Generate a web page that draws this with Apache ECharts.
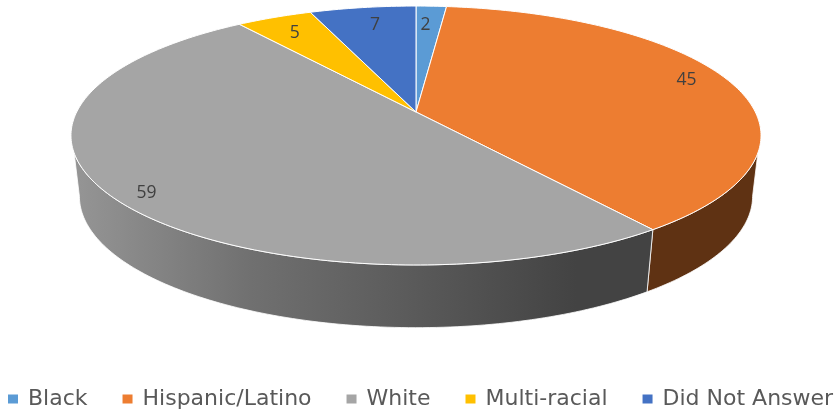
<!DOCTYPE html>
<html>
<head>
<meta charset="utf-8">
<style>html,body{margin:0;padding:0;background:#fff}#c{width:837px;height:412px}</style>
<script src="https://cdn.jsdelivr.net/npm/echarts@6/dist/echarts.min.js"></script>
</head>
<body>
<div id="c"></div>
<script>
const categories = ['Black', 'Hispanic/Latino', 'White', 'Multi-racial', 'Did Not Answer'];
const values = [2, 45, 59, 5, 7];
const colors = ['#5B9BD5', '#ED7D31', '#A5A5A5', '#FFC000', '#4472C4'];
const labelRadius = [0.8, 0.86, 0.9, 0.82, 0.8];
const labelNudge = [[-3, 0], [0, -5], [2, 7], [-2, 0], [3, -1]];

const total = values.reduce((a, b) => a + b, 0);
const DEG = Math.PI / 180;
const cx = 416, k = 0.1815;
const topDisc = { cy: 112, S: 339.3, A: 125.2 };
const lowDisc = { cy: 172.5, S: 331, A: 127 };
const topVisible = [108, 252];
const lowVisible = [100.5, 259.5];

function project(d, deg, r) {
  const u = r * Math.sin(deg * DEG), v = r * Math.cos(deg * DEG), w = 1 + k * v;
  return [cx + d.S * u / w, d.cy - d.A * v / w];
}
function arc(d, a, b) {
  const pts = [], n = Math.max(1, Math.ceil(Math.abs(b - a)));
  for (let i = 0; i <= n; i++) pts.push(project(d, a + (b - a) * i / n, 1));
  return pts;
}
const wallGray = {
  type: 'linear', x: 80, y: 0, x2: 650, y2: 0, global: true,
  colorStops: [
    { offset: 0, color: '#949494' }, { offset: 0.3, color: '#707070' },
    { offset: 0.56, color: '#5c5c5c' }, { offset: 0.87, color: '#434343' }, { offset: 1, color: '#434343' }
  ]
};
const wallFill = { 1: '#5F3213', 2: wallGray };

function renderSlice(index) {
  return function (params, api) {
    const value = api.value(0);
    let before = 0;
    for (let i = 0; i < index; i++) before += values[i];
    const a = before / total * 360, b = (before + value) / total * 360, mid = (a + b) / 2;
    const children = [];
    const ua = Math.max(a, topVisible[0]), ub = Math.min(b, topVisible[1]);
    const la = Math.max(a, lowVisible[0]), lb = Math.min(b, lowVisible[1]);
    if (ub > ua && lb > la) {
      children.push({
        type: 'polygon',
        shape: { points: arc(topDisc, ua, ub).concat(arc(lowDisc, lb, la)) },
        style: { fill: wallFill[index] || api.visual('color'), stroke: '#fff', lineWidth: 0.8 }
      });
    }
    const apex = [cx, topDisc.cy];
    children.push({
      type: 'polygon',
      shape: { points: [apex].concat(arc(topDisc, a, b)) },
      style: { fill: api.visual('color'), stroke: '#fff', lineWidth: 1 }
    });
    const p = project(topDisc, mid, labelRadius[index]);
    children.push({
      type: 'text',
      style: {
        text: String(value), x: p[0] + labelNudge[index][0], y: p[1] + labelNudge[index][1],
        align: 'center', verticalAlign: 'middle',
        fill: '#404040', font: '17.5px "Open Sans"'
      }
    });
    return { type: 'group', children };
  };
}

const chart = echarts.init(document.getElementById('c'), null, { renderer: 'canvas' });
chart.setOption({
  animation: false,
  backgroundColor: '#fff',
  legend: {
    data: categories, left: 8, top: 388, width: 900, padding: 0,
    icon: 'rect', itemWidth: 10, itemHeight: 9, itemGap: 35,
    selectedMode: false,
    textStyle: { color: '#595959', fontFamily: 'DejaVu Sans', fontSize: 22, padding: [0, 0, 0, 5] }
  },
  series: categories.map((name, i) => ({
    type: 'custom', name, coordinateSystem: 'none', clip: false, silent: true,
    itemStyle: { color: colors[i] },
    renderItem: renderSlice(i),
    data: [[values[i]]]
  }))
});
</script>
</body>
</html>
